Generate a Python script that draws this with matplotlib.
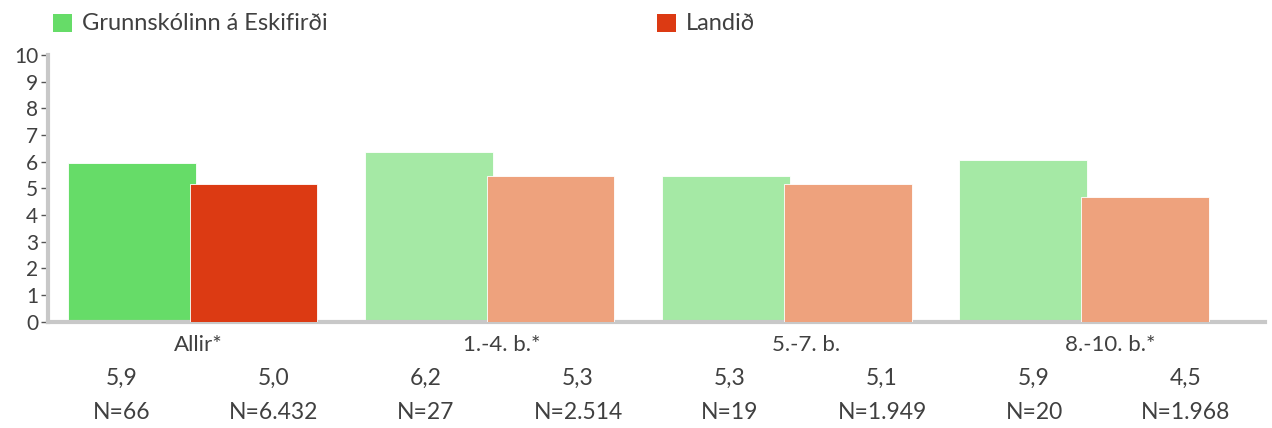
import matplotlib
matplotlib.use("Agg")
import matplotlib.pyplot as plt
from matplotlib.patches import Rectangle
import numpy as np

plt.rcParams['font.family'] = ['Lato', 'DejaVu Sans']

# ---- data ----
categories = ["Allir*", "1.-4. b.*", "5.-7. b.", "8.-10. b.*"]
series_names = ["Grunnskólinn á Eskifirði", "Landið"]
school_heights = [5.94, 6.35, 5.45, 6.05]   # bar heights as drawn
country_heights = [5.16, 5.46, 5.16, 4.66]
school_means = ["5,9", "6,2", "5,3", "5,9"]
country_means = ["5,0", "5,3", "5,1", "4,5"]
school_n = ["N=66", "N=27", "N=19", "N=20"]
country_n = ["N=6.432", "N=2.514", "N=1.949", "N=1.968"]
yticks = list(range(0, 11))

# ---- style ----
school_colors = ["#66DC68", "#A5E9A5", "#A5E9A5", "#A5E9A5"]
country_colors = ["#DC3A13", "#EEA27D", "#EEA27D", "#EEA27D"]
text_color = "#404040"
W, H = 1272, 428

fig = plt.figure(figsize=(W / 100, H / 100), dpi=100)
ax = fig.add_axes([48 / W, (H - 321.7) / H, (1265 - 48) / W, (321.7 - 55) / H])

x = np.arange(len(categories))
bw = 0.43
ax.bar(x - 0.205, school_heights, bw, color=school_colors, edgecolor="#ffffff", linewidth=0.6, zorder=2)
ax.bar(x + 0.205, country_heights, bw, color=country_colors, edgecolor="#ffffff", linewidth=0.6, zorder=3)

ax.set_xlim(-0.487, 3.61)
ax.set_ylim(0, 10)
ax.set_yticks(yticks)
ax.set_yticklabels([str(t) for t in yticks], fontsize=15, color=text_color)
ax.tick_params(axis='y', length=5, width=1, color="#555555", pad=2)
ax.set_xticks([])
for s in ["top", "right"]:
    ax.spines[s].set_visible(False)
for s in ["left", "bottom"]:
    ax.spines[s].set_color("#c8c8c8")
    ax.spines[s].set_linewidth(3)

# table-like labels below the plot: 8 evenly spaced columns
col_px = [122 + 152 * i for i in range(2 * len(categories))]
for i, c in enumerate(categories):
    cx = (col_px[2 * i] + col_px[2 * i + 1]) / 2
    fig.text(cx / W, (H - 351) / H, c, ha="center", va="baseline", fontsize=16, color=text_color)
    for j, (m, n) in enumerate([(school_means[i], school_n[i]), (country_means[i], country_n[i])]):
        px = col_px[2 * i + j]
        fig.text(px / W, (H - 385) / H, m, ha="center", va="baseline", fontsize=16.5, color=text_color)
        fig.text(px / W, (H - 419) / H, n, ha="center", va="baseline", fontsize=16.5, color=text_color)

# legend
leg_items = [(53, series_names[0], school_colors[0]), (657, series_names[1], country_colors[0])]
for px, name, col in leg_items:
    fig.patches.append(Rectangle((px / W, (H - 32.3) / H), 18.5 / W, 18.3 / H, transform=fig.transFigure,
                                 facecolor=col, edgecolor="none"))
    fig.text((px + 29) / W, (H - 30) / H, name, ha="left", va="baseline", fontsize=17, color=text_color)

fig.savefig("out.png", dpi=100)
